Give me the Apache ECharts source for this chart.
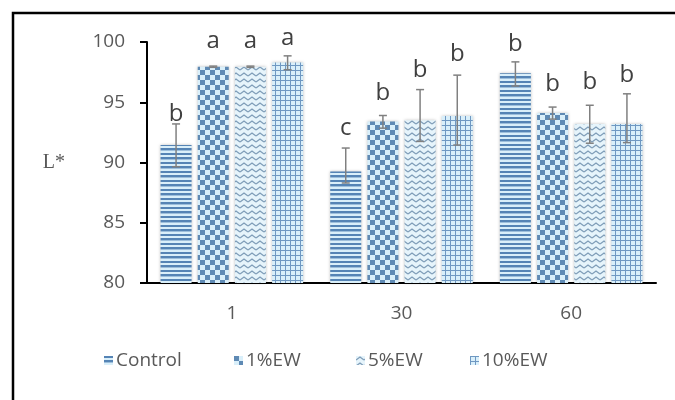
<!DOCTYPE html>
<html>
<head>
<meta charset="utf-8">
<script src="https://cdn.jsdelivr.net/npm/echarts@6/dist/echarts.min.js"></script>
<style>
  html, body { margin: 0; padding: 0; background: #fff; }
  #chart { width: 675px; height: 400px; }
</style>
</head>
<body>
<div id="chart"></div>
<script>
// storage time (days)
const categories = ['1', '30', '60']
const seriesNames = ['Control', '1%EW', '5%EW', '10%EW']

// mean L* values
const controlVals = [91.45, 89.25, 97.4]
const ew1Vals = [97.95, 93.4, 94.1]
const ew5Vals = [97.95, 93.5, 93.2]
const ew10Vals = [98.3, 93.85, 93.2]

// error bar ends (high / low)
const controlHigh = [93.2, 91.2, 98.35]
const controlLow = [89.65, 88.3, 96.35]
const ew1High = [98.0, 93.9, 94.6]
const ew1Low = [97.9, 92.85, 93.6]
const ew5High = [98.0, 96.05, 94.75]
const ew5Low = [97.9, 91.75, 91.6]
const ew10High = [98.85, 97.25, 95.7]
const ew10Low = [97.7, 91.45, 91.65]

// significance letters and the L* level they sit at
const controlLetters = ['b', 'c', 'b']
const ew1Letters = ['a', 'b', 'b']
const ew5Letters = ['a', 'b', 'b']
const ew10Letters = ['a', 'b', 'b']
const controlLetterAt = [94.0, 92.85, 99.8]
const ew1LetterAt = [100.1, 95.75, 96.5]
const ew5LetterAt = [100.1, 97.7, 96.65]
const ew10LetterAt = [100.35, 99.0, 97.25]

const yTicks = [80, 85, 90, 95, 100]

const values = [controlVals, ew1Vals, ew5Vals, ew10Vals]
const highs = [controlHigh, ew1High, ew5High, ew10High]
const lows = [controlLow, ew1Low, ew5Low, ew10Low]
const letters = [controlLetters, ew1Letters, ew5Letters, ew10Letters]
const letterAt = [controlLetterAt, ew1LetterAt, ew5LetterAt, ew10LetterAt]

const DARK = '#5584b5'
const LIGHT = '#d9effa'

// --- fill patterns ---
const makeCanvas = (w, h, draw) => {
  const c = document.createElement('canvas')
  c.width = w
  c.height = h
  const ctx = c.getContext('2d')
  ctx.fillStyle = LIGHT
  ctx.fillRect(0, 0, w, h)
  draw(ctx)
  return { image: c, repeat: 'repeat' }
}

const stripes = makeCanvas(9, 9, ctx => {
  ctx.fillStyle = DARK
  ctx.fillRect(0, 0, 9, 2)
  ctx.fillRect(0, 4, 9, 2)
  ctx.fillStyle = '#9dbfdc'
  ctx.fillRect(0, 6, 9, 1)
})

const checker = makeCanvas(10, 10, ctx => {
  ctx.fillStyle = '#5f8ab4'
  ctx.fillRect(0, 0, 5, 5)
  ctx.fillRect(5, 5, 5, 5)
})

const zigzag = makeCanvas(8, 6, ctx => {
  ctx.fillStyle = '#e6f4fb'
  ctx.fillRect(0, 0, 8, 6)
  ctx.strokeStyle = '#7f9db8'
  ctx.lineWidth = 1.3
  ctx.beginPath()
  ctx.moveTo(0, 4)
  ctx.lineTo(4, 1)
  ctx.lineTo(8, 4)
  ctx.stroke()
})

const plaid = makeCanvas(5, 5, ctx => {
  ctx.fillStyle = '#6f98c2'
  ctx.fillRect(0, 0, 5, 1)
  ctx.fillRect(0, 0, 1, 5)
})

const fills = [stripes, checker, zigzag, plaid]

// bar layout shared by bars and error bars
const CAT_GAP = 0.16
const BAR_GAP = 0.2
const n = seriesNames.length

const barOffset = (api, i) => {
  const band = api.size([1, 0])[0]
  const w = band * (1 - CAT_GAP) / (n + (n - 1) * BAR_GAP)
  return (i - (n - 1) / 2) * w * (1 + BAR_GAP)
}

const barSeries = seriesNames.map((name, i) => ({
  name,
  type: 'bar',
  data: values[i],
  barCategoryGap: '16%',
  barGap: '20%',
  itemStyle: {
    color: fills[i],
    shadowBlur: 3,
    shadowColor: 'rgba(0,0,0,0.25)'
  }
}))

const errorSeries = seriesNames.map((name, i) => ({
  type: 'custom',
  name: name + '-err',
  z: 5,
  clip: false,
  silent: true,
  data: categories.map((c, k) => [k, highs[i][k], lows[i][k], letterAt[i][k], letters[i][k]]),
  renderItem: (params, api) => {
    const off = barOffset(api, i)
    const hi = api.coord([api.value(0), api.value(1)])
    const lo = api.coord([api.value(0), api.value(2)])
    const tx = api.coord([api.value(0), api.value(3)])
    const x = hi[0] + off
    const style = { stroke: '#808080', lineWidth: 1.5 }
    return {
      type: 'group',
      children: [
        { type: 'line', shape: { x1: x, y1: hi[1], x2: x, y2: lo[1] }, style },
        { type: 'line', shape: { x1: x - 4, y1: hi[1], x2: x + 4, y2: hi[1] }, style },
        { type: 'line', shape: { x1: x - 4, y1: lo[1], x2: x + 4, y2: lo[1] }, style },
        {
          type: 'text',
          x,
          y: tx[1],
          style: {
            text: api.value(4),
            fill: '#404040',
            font: '24px "Open Sans"',
            align: 'center',
            verticalAlign: 'middle'
          }
        }
      ]
    }
  }
}))

const legendLefts = [99, 229, 351, 465]

const chart = echarts.init(document.getElementById('chart'))

chart.setOption({
  animation: false,
  backgroundColor: '#fff',
  graphic: [
    {
      type: 'rect',
      shape: { x: 13, y: 13, width: 700, height: 420 },
      style: { fill: 'none', stroke: '#000', lineWidth: 2.5 }
    }
  ],
  legend: seriesNames.map((name, i) => ({
    data: [{ name, icon: 'rect' }],
    left: legendLefts[i],
    top: 346,
    itemWidth: 9,
    itemHeight: 9,
    itemGap: 4,
    selectedMode: false,
    textStyle: { color: '#595959', fontSize: 19, fontFamily: 'Open Sans', padding: [0, 0, 0, -2] }
  })),
  grid: {
    left: 147,
    right: 19,
    top: 42,
    bottom: 117
  },
  xAxis: {
    type: 'category',
    data: categories,
    axisLine: { lineStyle: { color: '#000', width: 2 } },
    axisTick: { alignWithLabel: true, length: 5, lineStyle: { color: '#000', width: 2 } },
    axisLabel: { color: '#595959', fontSize: 19, fontFamily: 'Open Sans', margin: 21 }
  },
  yAxis: {
    type: 'value',
    min: yTicks[0],
    max: yTicks[yTicks.length - 1],
    interval: 5,
    name: 'L*',
    nameLocation: 'middle',
    nameRotate: 0,
    nameGap: 82,
    nameTextStyle: { color: '#595959', fontSize: 20, fontFamily: 'Liberation Serif' },
    axisLine: { show: true, lineStyle: { color: '#000', width: 2 } },
    axisTick: { show: true, inside: false, length: 7, lineStyle: { color: '#000', width: 2 } },
    splitLine: { show: false },
    axisLabel: { color: '#595959', fontSize: 19, fontFamily: 'Open Sans', margin: 22 }
  },
  series: [...barSeries, ...errorSeries]
})
</script>
</body>
</html>
